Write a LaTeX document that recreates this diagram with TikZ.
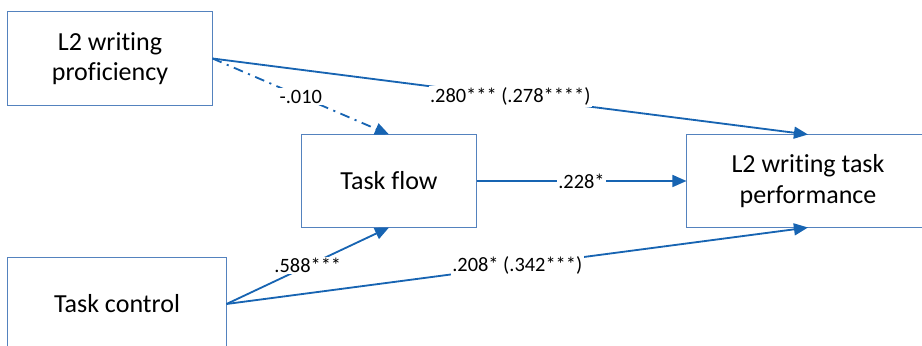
\documentclass[tikz,border=0pt]{standalone}
\usepackage{fontspec}
\setmainfont{Carlito}[Ligatures=NoCommon]
\usetikzlibrary{arrows.meta}
\definecolor{boxblue}{RGB}{84,130,190}
\definecolor{pathblue}{RGB}{23,100,178}

\begin{document}
\begin{tikzpicture}[x=0.025cm,y=-0.025cm,
    var/.style={draw=boxblue,line width=0.7pt,align=center,inner sep=0pt,
      font=\fontsize{18.5}{21.5}\selectfont},
    effect/.style={draw=pathblue,line width=1.3pt,
      -{Triangle[length=10pt,width=8.5pt]}},
    coef/.style={fill=white,inner sep=1pt,font=\fontsize{14.5}{17}\selectfont}]
  \useasboundingbox (0,0) rectangle (922,346);
  \node[var,minimum width=5.1cm,minimum height=2.325cm] (prof) at (110,58.5) {L2 writing\\proficiency};
  \node[var,minimum width=4.35cm,minimum height=2.3cm] (flow) at (389,181) {Task flow};
  \node[var,minimum width=6.05cm,minimum height=2.3cm] (perf) at (808,181) {L2 writing task\\performance};
  \node[var,minimum width=5.45cm,minimum height=2.3cm] (control) at (117,304) {Task control};
  \begin{scope}[effect]
    \draw[dash pattern=on 7pt off 4pt on 1.5pt off 4pt] (prof.east) -- node[coef]{-.010} (flow.north);
    \draw (prof.east) -- node[coef]{.280*** (.278****)} (perf.north);
    \draw (flow.east) -- node[coef]{.228*} (perf.west);
    \draw (control.east) -- node[coef]{.588***} (flow.south);
    \draw (control.east) -- node[coef]{.208* (.342***)} (perf.south);
  \end{scope}
\end{tikzpicture}
\end{document}
